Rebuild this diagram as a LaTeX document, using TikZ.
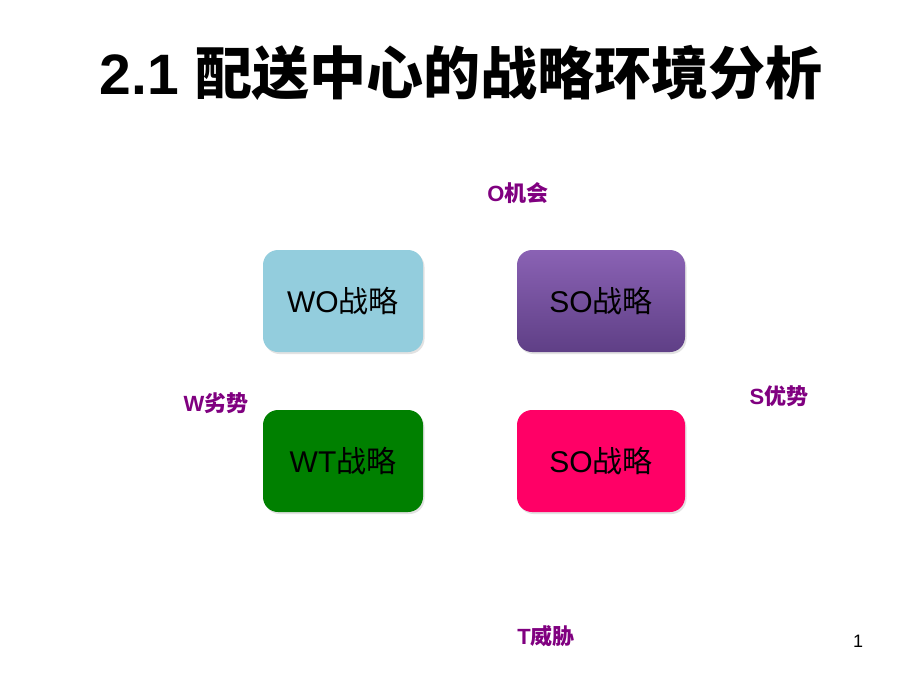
\documentclass[tikz,border=0pt]{standalone}
\usepackage{fontspec}
\setmainfont{Liberation Sans}
\newfontfamily\cjk{Noto Sans CJK SC}
\usepackage{xcolor}
\usetikzlibrary{shadows, positioning}

\definecolor{labelpurple}{HTML}{800080}
\definecolor{woblue}{HTML}{93CDDD}
\definecolor{sotop}{HTML}{8A62B4}
\definecolor{sobottom}{HTML}{5F3F86}
\definecolor{wtgreen}{HTML}{008000}
\definecolor{tpink}{HTML}{FF0066}

\begin{document}
\begin{tikzpicture}[x=1pt, y=-1pt,
    strat/.style={rounded corners=15pt, minimum width=160pt, minimum height=102pt,
        inner sep=0pt, font=\fontsize{30}{34}\selectfont,
        drop shadow={shadow xshift=1.5pt, shadow yshift=-2pt, fill=black!22}},
    axis/.style={text=labelpurple, font=\fontsize{22}{26}\selectfont\bfseries}]
    \useasboundingbox[fill=white] (0,0) rectangle (920,690);

    \node (title) at (461,73) {\fontsize{57}{62}\selectfont\bfseries 2.1 {\cjk 配送中心的战略环境分析}};

    \node (o) at (518,193) [axis] {O{\cjk\bfseries 机会}};
    \node (w) at (216,403) [axis] {W{\cjk\bfseries 劣势}};
    \node (s) at (779,396) [axis] {S{\cjk\bfseries 优势}};
    \node (t) at (546,636) [axis] {T{\cjk\bfseries 威胁}};

    \node (wo) at (343,301) [strat, fill=woblue] {WO{\cjk 战略}};
    \node (so) at (601,301) [strat, minimum width=168pt, top color=sotop, bottom color=sobottom] {SO{\cjk 战略}};
    \node (wt) at (343,461) [strat, fill=wtgreen] {WT{\cjk 战略}};
    \node (st) at (601,461) [strat, minimum width=168pt, fill=tpink] {SO{\cjk 战略}};

    \node (page) at (858,641) {\fontsize{18}{20}\selectfont 1};
\end{tikzpicture}
\end{document}
